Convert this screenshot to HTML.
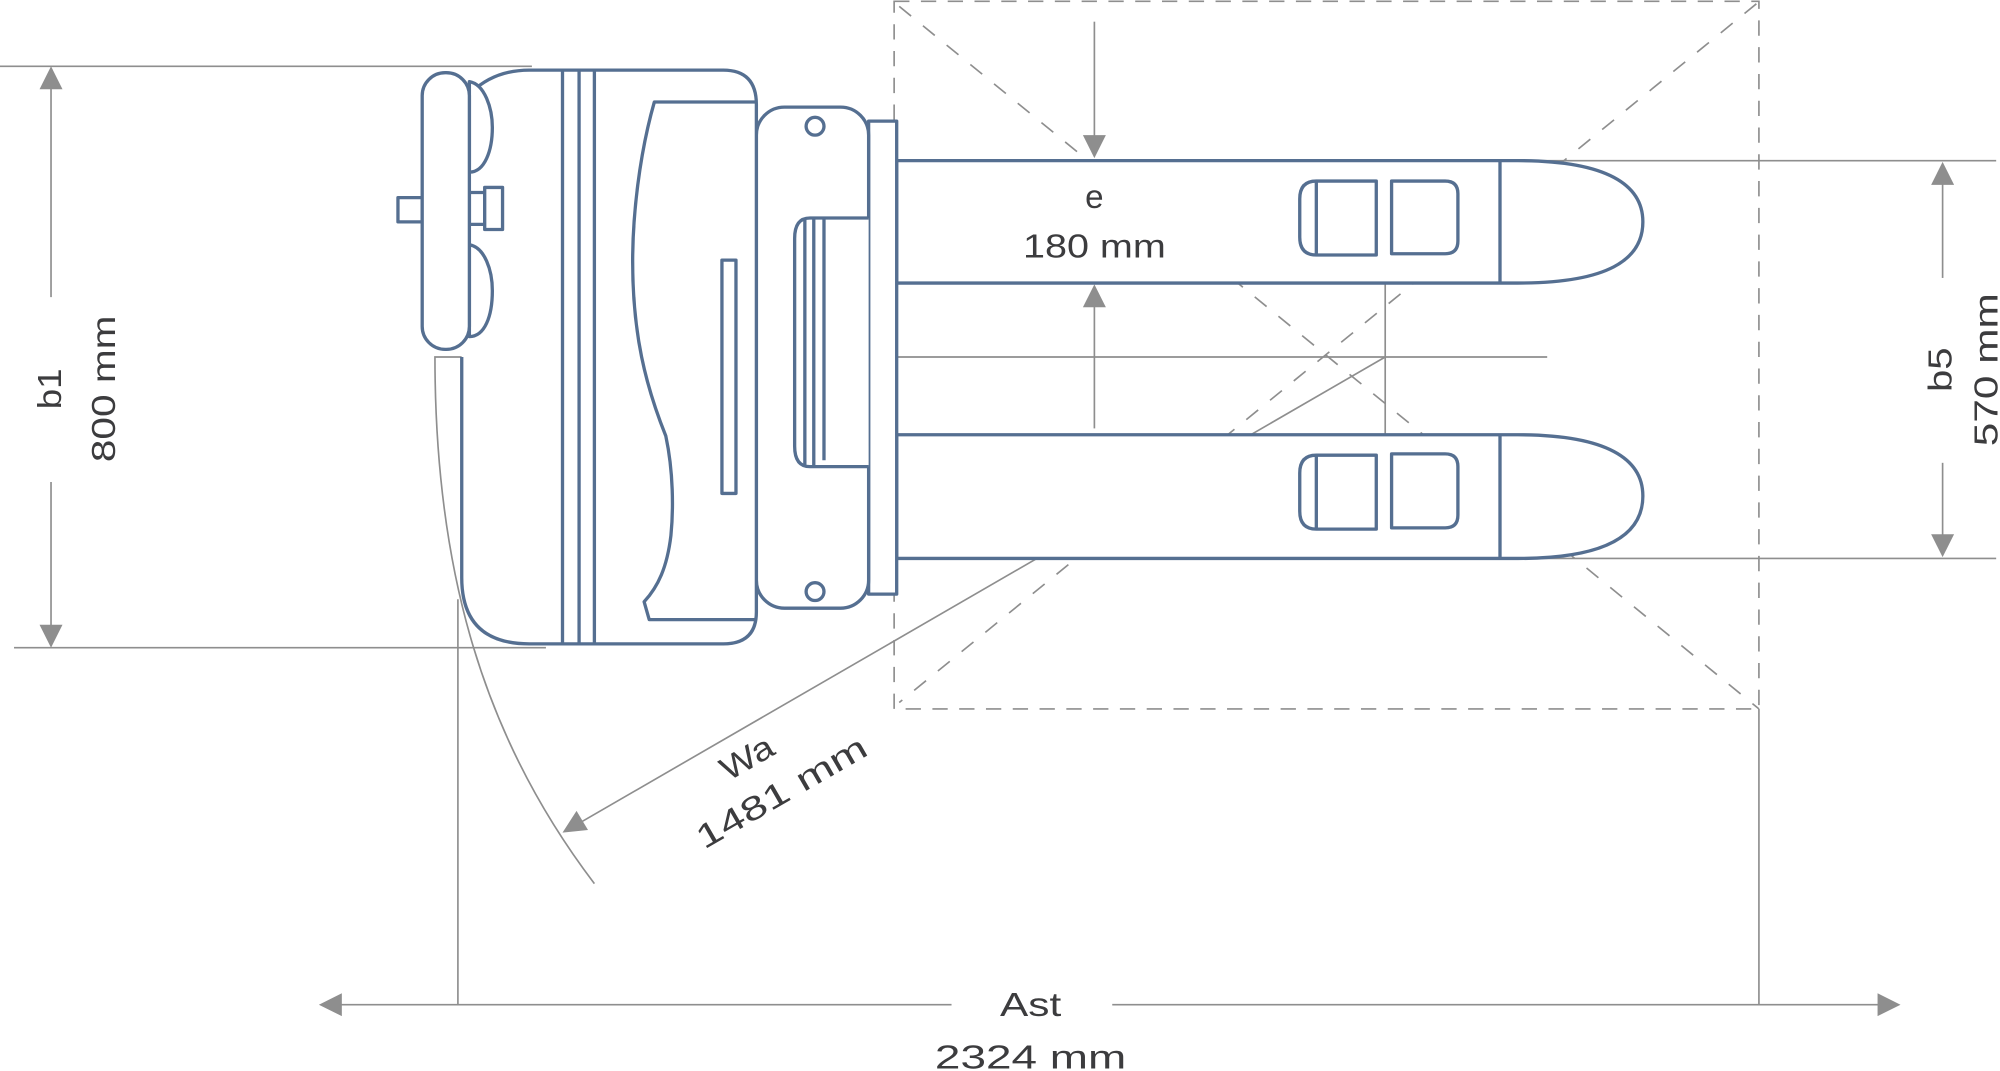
<!DOCTYPE html>
<html><head><meta charset="utf-8"><style>
html,body{margin:0;padding:0;background:#fff;}
svg{display:block;}
text{font-family:"Liberation Sans",sans-serif;fill:#3c3c3e;font-size:26px;}
</style></head><body>
<svg width="2000" height="1071" viewBox="0 0 1568 840" preserveAspectRatio="none" xmlns="http://www.w3.org/2000/svg">
<g stroke="#8e8e8e" stroke-width="1.3" fill="none">
  <rect x="701" y="1" width="678" height="555" stroke-dasharray="12,9"/>
  <line x1="705" y1="5" x2="1379" y2="556" stroke-dasharray="12,12"/>
  <line x1="1377" y1="3" x2="705" y2="551" stroke-dasharray="12,12"/>
  <line x1="0" y1="52" x2="417" y2="52"/>
  <line x1="11" y1="508" x2="428" y2="508"/>
  <line x1="40" y1="60" x2="40" y2="233"/>
  <line x1="40" y1="378" x2="40" y2="500"/>
  <line x1="1176" y1="126" x2="1565" y2="126"/>
  <line x1="1176" y1="438" x2="1565" y2="438"/>
  <line x1="1523" y1="135" x2="1523" y2="218"/>
  <line x1="1523" y1="363" x2="1523" y2="430"/>
  <line x1="858" y1="17" x2="858" y2="110"/>
  <line x1="858" y1="238" x2="858" y2="336"/>
  <line x1="703" y1="280" x2="1213" y2="280"/>
  <line x1="1086" y1="222" x2="1086" y2="341"/>
  <line x1="1086" y1="280" x2="450" y2="648"/>
  <path d="M362,280 L341,280 C341,450 380,580 466,693"/>
  <line x1="359" y1="470" x2="359" y2="788"/>
  <line x1="258" y1="788" x2="746" y2="788"/>
  <line x1="872" y1="788" x2="1482" y2="788"/>
  <line x1="1379" y1="556" x2="1379" y2="788"/>
</g>
<g fill="#8e8e8e">
  <polygon points="40,52 31,70 49,70"/>
  <polygon points="40,508 31,490 49,490"/>
  <polygon points="1523,127 1514,145 1532,145"/>
  <polygon points="1523,437 1514,419 1532,419"/>
  <polygon points="858,124 849,106 867,106"/>
  <polygon points="858,223 849,241 867,241"/>
  <polygon points="250,788 268,779 268,797"/>
  <polygon points="1490,788 1472,779 1472,797"/>
  <polygon points="441,653 452,636 461,651"/>
</g>
<g stroke="#556f91" stroke-width="2.6" fill="#fff" stroke-linejoin="round">
  <path d="M703,126 L1190,126 C1260,126 1288,145 1288,174 C1288,204 1260,222 1190,222 L703,222 Z"/>
  <line x1="1176" y1="126" x2="1176" y2="222"/>
  <path d="M1032,142 L1079,142 L1079,200 L1032,200 Q1019,200 1019,186 L1019,156 Q1019,142 1032,142 Z"/>
  <line x1="1032" y1="142" x2="1032" y2="200"/>
  <path d="M1091,142 L1133,142 Q1143,142 1143,152 L1143,189 Q1143,199 1133,199 L1091,199 Z"/>
  <path d="M703,341 L1190,341 C1260,341 1288,360 1288,389 C1288,419 1260,438 1190,438 L703,438 Z"/>
  <line x1="1176" y1="341" x2="1176" y2="438"/>
  <path d="M1032,357 L1079,357 L1079,415 L1032,415 Q1019,415 1019,401 L1019,371 Q1019,357 1032,357 Z"/>
  <line x1="1032" y1="357" x2="1032" y2="415"/>
  <path d="M1091,356 L1133,356 Q1143,356 1143,366 L1143,404 Q1143,414 1133,414 L1091,414 Z"/>
  <rect x="681" y="95" width="22" height="371"/>
  <rect x="593" y="84" width="88" height="393" rx="22"/>
  <circle cx="639" cy="99" r="7"/>
  <circle cx="639" cy="464" r="7"/>
  <path d="M681,171 L635,171 Q623,171 623,187 L623,350 Q623,366 635,366 L681,366"/>
  <line x1="631" y1="172" x2="631" y2="365"/>
  <line x1="638" y1="172" x2="638" y2="365"/>
  <line x1="646" y1="172" x2="646" y2="361"/>
  <path d="M370,72 Q388,55 415,55 L567,55 Q593,55 593,82 L593,480 Q593,505 567,505 L415,505 Q362,505 362,453 L362,280"/>
  <line x1="441" y1="55" x2="441" y2="505"/>
  <line x1="454" y1="55" x2="454" y2="505"/>
  <line x1="466" y1="55" x2="466" y2="505"/>
  <path d="M593,80 L513,80 C501,122 496,170 496,205 C496,262 506,302 522,342 C528,370 528,400 526,420 C523,445 516,460 505,472 L509,486 L593,486" fill="none"/>
  <rect x="566" y="204" width="11" height="183"/>
  <path d="M368,64 C380,66 386,85 386,100 C386,118 380,135 368,135 Z"/>
  <path d="M368,192 C380,194 386,212 386,228 C386,248 380,264 368,264 Z"/>
  <rect x="312" y="155" width="19" height="19"/>
  <rect x="368" y="151" width="12" height="25"/>
  <rect x="380" y="147" width="14" height="33"/>
  <rect x="331" y="57" width="37" height="217" rx="18"/>
</g>
<text x="858" y="163" text-anchor="middle">e</text>
<text x="858" y="202" text-anchor="middle" textLength="112" lengthAdjust="spacingAndGlyphs">180 mm</text>
<text x="808" y="797" text-anchor="middle" textLength="48" lengthAdjust="spacingAndGlyphs">Ast</text>
<text x="808" y="838" text-anchor="middle" textLength="150" lengthAdjust="spacingAndGlyphs">2324 mm</text>
<text transform="translate(48,305) rotate(-90)" text-anchor="middle" textLength="32" lengthAdjust="spacingAndGlyphs">b1</text>
<text transform="translate(90,305) rotate(-90)" text-anchor="middle" textLength="115" lengthAdjust="spacingAndGlyphs">800 mm</text>
<text transform="translate(1530,290) rotate(-90)" text-anchor="middle" textLength="35" lengthAdjust="spacingAndGlyphs">b5</text>
<text transform="translate(1566,290) rotate(-90)" text-anchor="middle" textLength="120" lengthAdjust="spacingAndGlyphs">570 mm</text>
<text transform="translate(590,602) rotate(-30)" text-anchor="middle" textLength="44" lengthAdjust="spacingAndGlyphs">Wa</text>
<text transform="translate(617,629) rotate(-30)" text-anchor="middle" textLength="150" lengthAdjust="spacingAndGlyphs">1481 mm</text>
</svg>
</body></html>
